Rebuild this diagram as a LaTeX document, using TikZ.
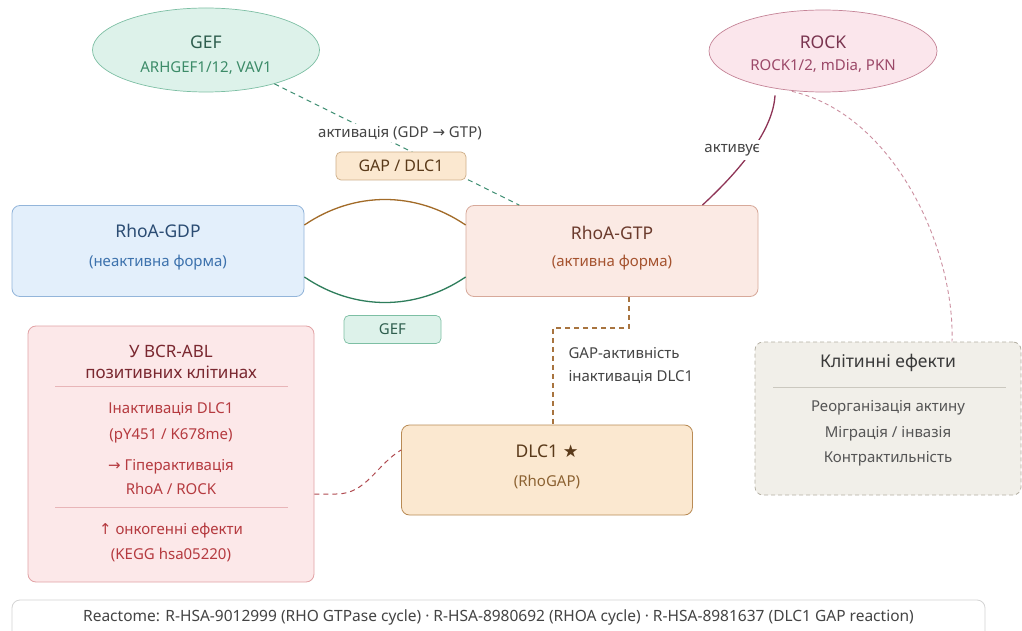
\documentclass[tikz,border=0pt]{standalone}
\usepackage{fontspec}
\setmainfont{Noto Sans}
\newfontfamily\symf{DejaVu Sans}
\usetikzlibrary{calc,shapes.geometric}
\definecolor{geffill}{HTML}{DDF2EA}
\definecolor{gefline}{HTML}{7DBFA4}
\definecolor{geftext}{HTML}{2E5E4E}
\definecolor{gefsub}{HTML}{3C8B68}
\definecolor{rockfill}{HTML}{FBE6EC}
\definecolor{rockline}{HTML}{C58497}
\definecolor{rocktext}{HTML}{7A3550}
\definecolor{rocksub}{HTML}{9B4868}
\definecolor{gdpfill}{HTML}{E3EFFB}
\definecolor{gdpline}{HTML}{93B5DA}
\definecolor{gdptext}{HTML}{2B4C73}
\definecolor{gdpsub}{HTML}{3D72AD}
\definecolor{gtpfill}{HTML}{FBEAE4}
\definecolor{gtpline}{HTML}{D7A99A}
\definecolor{gtptext}{HTML}{6B3B2D}
\definecolor{gtpsub}{HTML}{A5532F}
\definecolor{dlcfill}{HTML}{FBE8D0}
\definecolor{dlcline}{HTML}{B98B55}
\definecolor{dlctext}{HTML}{5A3A1A}
\definecolor{dlcsub}{HTML}{8C6232}
\definecolor{bcrfill}{HTML}{FCE8E9}
\definecolor{bcrline}{HTML}{E2A3A6}
\definecolor{bcrtext}{HTML}{7A2830}
\definecolor{bcrsub}{HTML}{B53A3F}
\definecolor{efffill}{HTML}{F1EFE9}
\definecolor{effline}{HTML}{B5B0A4}
\definecolor{efftext}{HTML}{3A3A3A}
\definecolor{effsub}{HTML}{555555}
\definecolor{cycbrown}{HTML}{A26B28}
\definecolor{cycgreen}{HTML}{2E7D5B}
\definecolor{gefdash}{HTML}{3E8E72}
\definecolor{rockdeep}{HTML}{8E3456}
\definecolor{rockdash}{HTML}{CC8FA0}
\definecolor{gapdash}{HTML}{A8743F}
\definecolor{bcrdash}{HTML}{B04A50}
\definecolor{labeltext}{HTML}{444444}

\begin{document}
\begin{tikzpicture}[x=1pt,y=-1pt,
    box/.style={draw,rounded corners=8pt,line width=0.8pt,inner sep=0pt},
    tagbox/.style={draw,rounded corners=5pt,line width=0.7pt,minimum height=28pt,inner sep=0pt},
    blob/.style={ellipse,draw,line width=0.7pt,inner sep=0pt},
    ttl/.style={font=\fontsize{17.5}{20}\selectfont},
    sub/.style={font=\fontsize{15}{18}\selectfont},
    lbl/.style={font=\fontsize{15}{18}\selectfont,text=labeltext},
    dashline/.style={line width=1pt,dash pattern=on 5pt off 4pt}]
  \clip (0,0) rectangle (1022,631);
  \fill[white] (0,0) rectangle (1022,631);

  % main boxes
  \node[box,fill=gdpfill,draw=gdpline,minimum width=292pt,minimum height=91pt] (gdp) at (158,251) {};
  \node[box,fill=gtpfill,draw=gtpline,minimum width=292pt,minimum height=91pt] (gtp) at (612,251) {};
  \node[box,fill=dlcfill,draw=dlcline,minimum width=291pt,minimum height=90pt] (dlc) at (547,470) {};
  \node[box,fill=bcrfill,draw=bcrline,minimum width=286pt,minimum height=256pt] (bcr) at (171,454) {};
  \node[box,fill=efffill,draw=effline,dash pattern=on 4pt off 3pt,minimum width=266pt,minimum height=153pt] (eff) at (888,418.5) {};
  \node[box,fill=white,draw=black!17,minimum width=973pt,minimum height=44pt] (ref) at (498.5,622) {};
  \node[blob,fill=geffill,draw=gefline,minimum width=227pt,minimum height=84pt] (gef) at (206,50) {};
  \node[blob,fill=rockfill,draw=rockline,minimum width=228pt,minimum height=82pt] (rock) at (823,51) {};

  % cycle between GDP and GTP
  \draw[cycbrown,line width=1.3pt] ($(gdp.east)+(0,-26)$) .. controls +(50,-34) and +(-50,-34) .. ($(gtp.west)+(0,-26)$);
  \draw[cycgreen,line width=1.3pt] ($(gdp.east)+(0,26)$) .. controls +(50,34) and +(-50,34) .. ($(gtp.west)+(0,26)$);

  % connectors
  \draw[gefdash,dashline] (gef) -- (gtp);
  \draw[rockdeep,line width=1.3pt] ($(rock.south)+(-48,3)$) .. controls +(-2,35) and +(38,-35) .. ($(gtp.north east)+(-56,0)$)
    node[pos=0.5,xshift=-20pt,fill=white,inner sep=4pt,lbl] (actlbl) {активує};
  \draw[rockdash,line width=0.9pt,dash pattern=on 4pt off 3pt] ($(rock.south)+(-31,-1)$) .. controls (895,115) and (955,250) .. ($(eff.north)+(64,0)$);
  \draw[gapdash,line width=1.4pt,dash pattern=on 5pt off 4pt] ($(gtp.south)+(17,0)$) -- ++(0,31) -| ($(dlc.north)+(6,0)$);
  \draw[bcrdash,dashline] ($(bcr.east)+(0,40)$) -- ++(22,0) .. controls +(30,0) and +(-25,15) .. ($(dlc.west)+(0,-20)$);

  % small tags
  \node[lbl,fill=white,inner sep=2pt] (gdpgtp) at (400,133) {активація (GDP {\symf →} GTP)};
  \node[tagbox,fill=dlcfill,draw=dlcline!70,minimum width=130pt,font=\fontsize{16}{18}\selectfont,text=dlctext] (gaptag) at (401,166) {GAP / DLC1};
  \node[tagbox,fill=geffill,draw=gefline,minimum width=97pt,sub,text=geftext] (geftag) at (392.5,329.5) {GEF};
  \node[lbl,anchor=west,align=left,font=\fontsize{15}{23}\selectfont] (gaplbl) at (565,366) {GAP-активність\\інактивація DLC1};

  % texts in ellipses
  \node[ttl,text=geftext] (gefT) at ($(gef)+(0,-8)$) {GEF};
  \node[sub,text=gefsub] (gefS) at ($(gef)+(0,18)$) {ARHGEF1/12, VAV1};
  \node[ttl,text=rocktext] (rockT) at ($(rock)+(0,-9)$) {ROCK};
  \node[sub,text=rocksub] (rockS) at ($(rock)+(0,15)$) {ROCK1/2, mDia, PKN};

  % texts in boxes
  \node[ttl,text=gdptext] (gdpT) at ($(gdp)+(0,-20)$) {RhoA-GDP};
  \node[sub,text=gdpsub] (gdpS) at ($(gdp)+(0,12)$) {(неактивна форма)};
  \node[ttl,text=gtptext] (gtpT) at ($(gtp)+(0,-18)$) {RhoA-GTP};
  \node[sub,text=gtpsub] (gtpS) at ($(gtp)+(0,12)$) {(активна форма)};
  \node[ttl,text=dlctext] (dlcT) at ($(dlc)+(0,-19)$) {DLC1 {\symf ★}};
  \node[sub,text=dlcsub] (dlcS) at ($(dlc)+(0,12)$) {(RhoGAP)};

  \node[ttl,text=bcrtext,align=center,font=\fontsize{17}{21}\selectfont] (bcrT) at (171,362) {У BCR-ABL\\позитивних клітинах};
  \draw[bcrline!80,line width=0.6pt] (55,386) -- (288,386);
  \node[sub,text=bcrsub,align=center,font=\fontsize{15}{26}\selectfont] (bcrA) at (171,423) {Інактивація DLC1\\(pY451 / K678me)};
  \node[sub,text=bcrsub,align=center,font=\fontsize{15}{24}\selectfont] (bcrB) at (171,477) {{\symf →} Гіперактивація\\RhoA / ROCK};
  \draw[bcrline!80,line width=0.6pt] (55,507) -- (288,507);
  \node[sub,text=bcrsub,align=center,font=\fontsize{15}{25}\selectfont] (bcrC) at (171,542.5) {{\symf ↑} онкогенні ефекти\\(KEGG hsa05220)};

  \node[ttl,text=efftext,font=\fontsize{17.5}{20}\selectfont] (effT) at (888,363) {Клітинні ефекти};
  \draw[effline!70,line width=0.6pt] (773,387) -- (1006,387);
  \node[sub,text=effsub,align=center,font=\fontsize{15}{25.5}\selectfont] (effS) at (888,433.5) {Реорганізація актину\\Міграція / інвазія\\Контрактильність};

  \node[lbl,font=\fontsize{15.5}{18}\selectfont] (refT) at (498.5,617) {Reactome: R-HSA-9012999 (RHO GTPase cycle) · R-HSA-8980692 (RHOA cycle) · R-HSA-8981637 (DLC1 GAP reaction)};
\end{tikzpicture}
\end{document}
